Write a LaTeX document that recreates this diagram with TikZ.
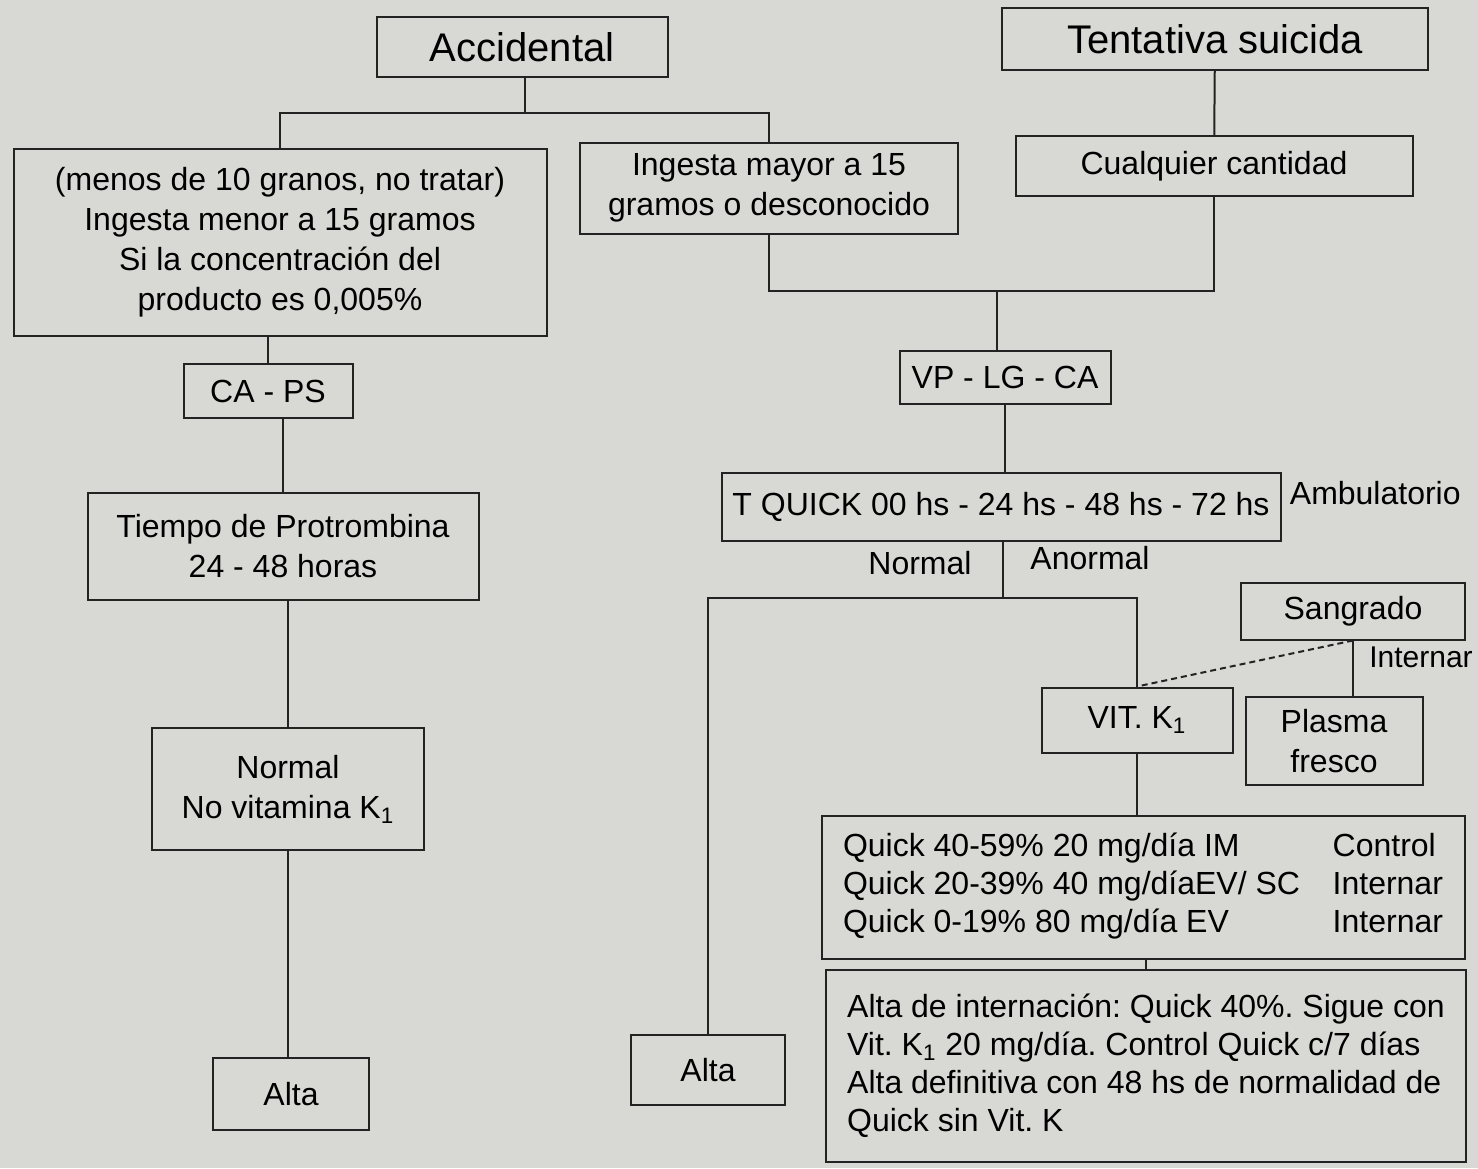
\documentclass[tikz,border=0pt]{standalone}
\usepackage{fontspec}
\setmainfont{Liberation Sans}
\usepackage{tikz}
\usetikzlibrary{positioning}
\definecolor{paper}{RGB}{216,216,212}
\definecolor{ink}{RGB}{35,35,35}
\frenchspacing
\tikzset{
step box/.style = { rectangle, draw = ink, line width = 1pt, text = black, font = \fontsize{16}{20}\selectfont, align = center, inner sep = 0pt },
title box/.style = { step box, font = \fontsize{20}{24}\selectfont },
side note/.style = { text = black, font = \fontsize{16}{20}\selectfont, inner sep = 0pt },
link/.style = { draw = ink, line width = 1pt },
}

\begin{document}
\begin{tikzpicture}[x = 0.5pt, y = -0.5pt]
      \fill[paper] (0, 0) rectangle (1478, 1168);
      \useasboundingbox (0, 0) rectangle (1478, 1168);
      % accidental branch
      \node[title box, minimum width = 145.5pt, minimum height = 30pt] (accidental) at (522, 47) {Accidental};
      \node[step box, minimum width = 266.5pt, minimum height = 93.5pt] (menor) at (280, 242) {(menos de 10 granos, no tratar)\\Ingesta menor a 15 gramos\\Si la concentración del\\producto es 0,005\%};
      \node[step box, minimum width = 189pt, minimum height = 45.5pt] (mayor) at (769, 188) {Ingesta mayor a 15\\gramos o desconocido};
      \node[step box, minimum width = 84.5pt, minimum height = 27pt] (carbon) at (268, 391) {CA - PS};
      \node[step box, minimum width = 195.5pt, minimum height = 53.5pt] (protrombina) at (283, 546) {Tiempo de Protrombina\\24 - 48 horas};
      \node[step box, minimum width = 136pt, minimum height = 61pt] (normal) at (288, 789) {Normal\\No vitamina K\textsubscript{1}};
      \node[step box, minimum width = 78pt, minimum height = 36pt] (alta left) at (291, 1094) {Alta};
      % suicide attempt branch
      \node[title box, minimum width = 213pt, minimum height = 31pt] (tentativa) at (1215, 39) {Tentativa suicida};
      \node[step box, minimum width = 198.5pt, minimum height = 30pt] (cantidad) at (1214, 166) {Cualquier cantidad};
      \node[step box, minimum width = 105.5pt, minimum height = 26.5pt] (lavado) at (1005, 377) {VP - LG - CA};
      \node[step box, minimum width = 279.5pt, minimum height = 34pt] (quick) at (1001, 507) {T QUICK 00 hs - 24 hs - 48 hs - 72 hs};
      \node[side note, right = 4pt of quick, yshift = 7pt] (ambulatorio) {Ambulatorio};
      \node[side note] (normal label) at (920, 563) {Normal};
      \node[side note] (anormal label) at (1090, 558) {Anormal};
      \node[step box, minimum width = 77pt, minimum height = 35pt] (alta mid) at (708, 1070) {Alta};
      \node[step box, minimum width = 95.5pt, minimum height = 32.5pt] (vitk) at (1137, 720) {VIT. K\textsubscript{1}};
      \node[step box, minimum width = 112pt, minimum height = 28.5pt] (sangrado) at (1353, 611) {Sangrado};
      \node[side note, font = \fontsize{15}{18}\selectfont] (internar) at (1421, 657) {Internar};
      \node[step box, minimum width = 88.5pt, minimum height = 44pt] (plasma) at (1334, 741) {Plasma\\fresco};
      \node[step box, font = \fontsize{16}{19}\selectfont, minimum width = 321.5pt, minimum height = 71.5pt] (dosis) at (1143, 887) {%
        \begin{tabular*}{300pt}{@{}l@{\extracolsep{\fill}}l@{}}
        Quick 40-59\% 20 mg/día IM & Control\\
        Quick 20-39\% 40 mg/díaEV/ SC & Internar\\
        Quick 0-19\% 80 mg/día EV & Internar
        \end{tabular*}};
      \node[step box, align = left, font = \fontsize{16}{19}\selectfont, minimum width = 320pt, minimum height = 96pt] (egreso) at (1146, 1066) {Alta de internación: Quick 40\%. Sigue con\\Vit. K\textsubscript{1} 20 mg/día. Control Quick c/7 días\\Alta definitiva con 48 hs de normalidad de\\Quick sin Vit. K};
      % connectors
      \coordinate (acc split) at (525, 113);
      \draw[link] (accidental.south -| acc split) -- (acc split);
      \draw[link] (menor.north) |- (acc split) -| (mayor.north);
      \draw[link] (carbon.north) -- (carbon.north |- menor.south);
      \draw[link] (protrombina.north) -- (protrombina.north |- carbon.south);
      \draw[link] (normal.north) -- (normal.north |- protrombina.south);
      \draw[link] (normal.south) -- (normal.south |- alta left.north);
      \draw[link] (tentativa) -- (cantidad);
      \coordinate (merge) at (997, 291);
      \draw[link] (mayor.south) |- (merge) -| (cantidad.south);
      \draw[link] (merge) -- (merge |- lavado.north);
      \draw[link] (lavado.south) -- (lavado.south |- quick.north);
      \coordinate (branch) at (1003, 598);
      \draw[link] (quick.south -| branch) -- (branch);
      \draw[link] (alta mid.north) |- (branch) -| (vitk.north);
      \draw[link, densely dashed] (sangrado.south) -- (vitk.north);
      \draw[link] (sangrado.south) -- (sangrado.south |- plasma.north);
      \draw[link] (vitk.south) -- (vitk.south |- dosis.north);
      \draw[link] (egreso.north) -- (egreso.north |- dosis.south);
\end{tikzpicture}
\end{document}
